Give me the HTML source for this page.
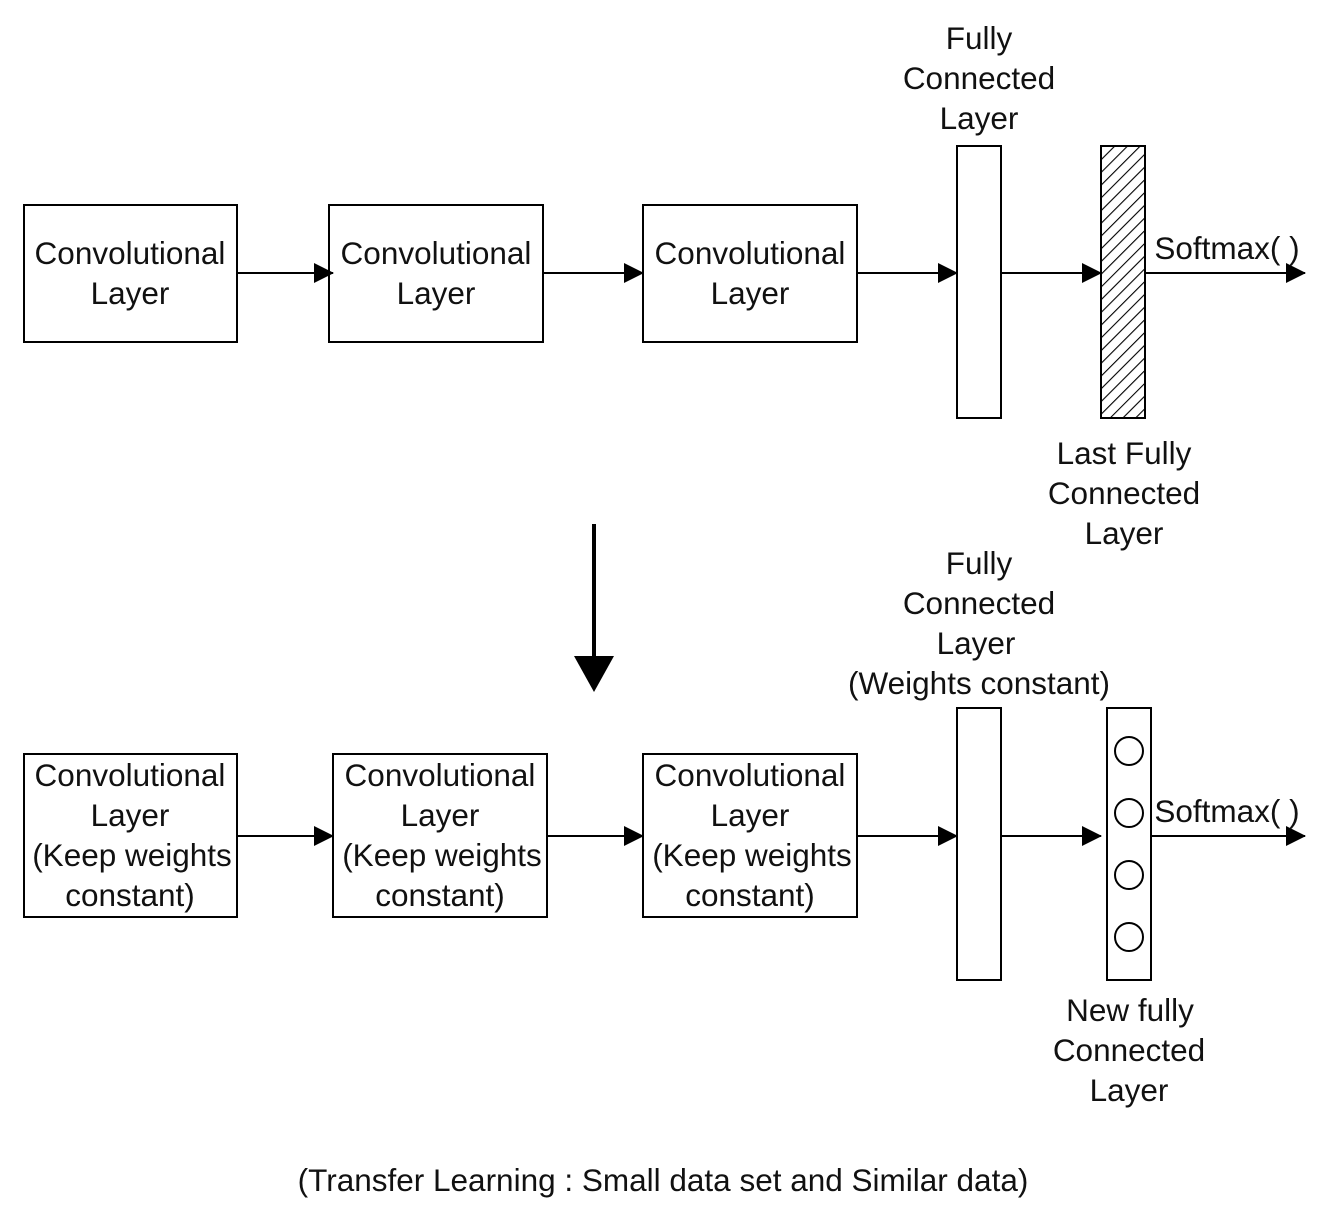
<!DOCTYPE html>
<html><head><meta charset="utf-8"><style>html,body{margin:0;padding:0;background:#fff}svg{display:block}text{font-family:"Liberation Sans",sans-serif;font-size:31.5px;fill:#111;text-anchor:middle;dominant-baseline:central}</style></head>
<body>
<svg width="1328" height="1218" viewBox="0 0 1328 1218" xmlns="http://www.w3.org/2000/svg">
<defs>
<pattern id="h" patternUnits="userSpaceOnUse" width="9" height="9" patternTransform="rotate(45)">
<line x1="0" y1="0" x2="0" y2="9" stroke="#000" stroke-width="2.2"/>
</pattern>
<marker id="a" markerWidth="20" markerHeight="20" refX="19" refY="10" orient="auto" markerUnits="userSpaceOnUse">
<path d="M0,0 L20,10 L0,20 Z" fill="#000"/>
</marker>
</defs>
<g fill="none" stroke="#000" stroke-width="2">
<rect x="24" y="205" width="213" height="137"/>
<rect x="329" y="205" width="214" height="137"/>
<rect x="643" y="205" width="214" height="137"/>
<rect x="957" y="146" width="44" height="272"/>
<rect x="1101" y="146" width="44" height="272" fill="url(#h)"/>
<rect x="24" y="754" width="213" height="163"/>
<rect x="333" y="754" width="214" height="163"/>
<rect x="643" y="754" width="214" height="163"/>
<rect x="957" y="708" width="44" height="272"/>
<rect x="1107" y="708" width="44" height="272"/>
<circle cx="1129" cy="751" r="14"/>
<circle cx="1129" cy="813" r="14"/>
<circle cx="1129" cy="875" r="14"/>
<circle cx="1129" cy="937" r="14"/>
<line x1="237" y1="273" x2="333" y2="273" marker-end="url(#a)"/>
<line x1="543" y1="273" x2="643" y2="273" marker-end="url(#a)"/>
<line x1="857" y1="273" x2="957" y2="273" marker-end="url(#a)"/>
<line x1="1001" y1="273" x2="1101" y2="273" marker-end="url(#a)"/>
<line x1="1145" y1="273" x2="1305" y2="273" marker-end="url(#a)"/>
<line x1="237" y1="836" x2="333" y2="836" marker-end="url(#a)"/>
<line x1="547" y1="836" x2="643" y2="836" marker-end="url(#a)"/>
<line x1="857" y1="836" x2="957" y2="836" marker-end="url(#a)"/>
<line x1="1001" y1="836" x2="1101" y2="836" marker-end="url(#a)"/>
<line x1="1151" y1="836" x2="1305" y2="836" marker-end="url(#a)"/>
<line x1="594" y1="524" x2="594" y2="660" stroke-width="4"/>
</g>
<path d="M574,656 L614,656 L594,692 Z" fill="#000"/>
<text x="130" y="253">Convolutional</text><text x="130" y="293">Layer</text>
<text x="436" y="253">Convolutional</text><text x="436" y="293">Layer</text>
<text x="750" y="253">Convolutional</text><text x="750" y="293">Layer</text>
<text x="979" y="38">Fully</text><text x="979" y="78">Connected</text><text x="979" y="118">Layer</text>
<text x="1124" y="453">Last Fully</text><text x="1124" y="493">Connected</text><text x="1124" y="533">Layer</text>
<text x="1227" y="248">Softmax( )</text>
<text x="979" y="563">Fully</text><text x="979" y="603">Connected</text><text x="976" y="643">Layer</text><text x="979" y="683">(Weights constant)</text>
<text x="130" y="775">Convolutional</text><text x="130" y="815">Layer</text><text x="132" y="855">(Keep weights</text><text x="130" y="895">constant)</text>
<text x="440" y="775">Convolutional</text><text x="440" y="815">Layer</text><text x="442" y="855">(Keep weights</text><text x="440" y="895">constant)</text>
<text x="750" y="775">Convolutional</text><text x="750" y="815">Layer</text><text x="752" y="855">(Keep weights</text><text x="750" y="895">constant)</text>
<text x="1227" y="811">Softmax( )</text>
<text x="1130" y="1010">New fully</text><text x="1129" y="1050">Connected</text><text x="1129" y="1090">Layer</text>
<text x="663" y="1180">(Transfer Learning : Small data set and Similar data)</text>
</svg>
</body></html>
